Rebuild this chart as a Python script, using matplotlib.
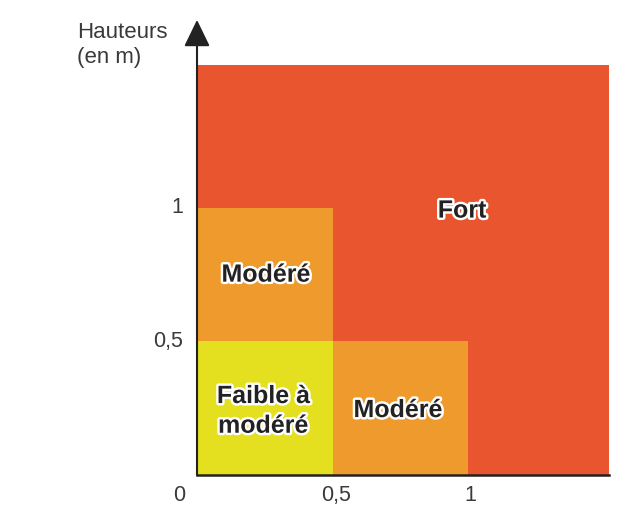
import matplotlib
matplotlib.use("Agg")
import matplotlib.pyplot as plt
import matplotlib.patheffects as pe
from matplotlib.patches import Rectangle

# zones: label, x-range, y-range (m)
zone_labels = ["Fort", "Modéré", "Modéré", "Faible à\nmodéré"]
zone_x = [(0, 1.52), (0, 0.5), (0.5, 1.0), (0, 0.5)]
zone_y = [(0, 1.535), (0.5, 1.0), (0, 0.5), (0, 0.5)]
zone_colors = ["#e8552f", "#ee9a2c", "#ee9a2c", "#e4e01f"]
label_pos = [(0.978, 0.99), (0.255, 0.75), (0.742, 0.243), (0.245, 0.24)]

xticks = [0, 0.5, 1]
xtick_labels = ["0", "0,5", "1"]
yticks = [0.5, 1]
ytick_labels = ["0,5", "1"]

plt.rcParams['font.family'] = ['Liberation Sans', 'DejaVu Sans']

fig = plt.figure(figsize=(6.17, 5.30), dpi=100)
ax = fig.add_axes([197 / 617, 55 / 530, 412 / 617, 410 / 530])
ax.set_xlim(0, 1.52)
ax.set_ylim(0, 1.535)

for lab, (x0, x1), (y0, y1), c, (tx, ty) in zip(zone_labels, zone_x, zone_y, zone_colors, label_pos):
    ax.add_patch(Rectangle((x0, y0), x1 - x0, y1 - y0, facecolor=c, edgecolor="none"))
    ax.text(tx, ty, lab, ha="center", va="center", fontsize=18, fontweight="bold",
            color="#222222", linespacing=1.3,
            path_effects=[pe.withStroke(linewidth=3.5, foreground="white")])

for s in ax.spines.values():
    s.set_visible(False)
ax.set_xticks([])
ax.set_yticks([])

# axes lines
ax.plot([0, 1.52], [0, 0], color="#222222", lw=1.8, clip_on=False)
ax.annotate("", xy=(0, 1.704), xytext=(0, 0), annotation_clip=False,
            arrowprops=dict(arrowstyle="-|>,head_length=1.65,head_width=0.8",
                            color="#222222", lw=1.5, shrinkA=0, shrinkB=0))

tick_color = "#3a3a3a"
xlab_x = [-0.066, 0.513, 1.01]
for v, t in zip(xlab_x, xtick_labels):
    ax.text(v, -0.075, t, ha="center", va="center",
            fontsize=15.5, color=tick_color, clip_on=False)
for v, t in zip(yticks, ytick_labels):
    ax.text(-0.05, v, t, ha="right", va="center",
            fontsize=15.5, color=tick_color, clip_on=False)

fig.text(77 / 617, 1 - 33 / 530, "Hauteurs", ha="left", va="center", fontsize=16, color=tick_color)
fig.text(77 / 617, 1 - 57 / 530, "(en m)", ha="left", va="center", fontsize=16, color=tick_color)

fig.savefig("out.png", dpi=100, facecolor="white")
